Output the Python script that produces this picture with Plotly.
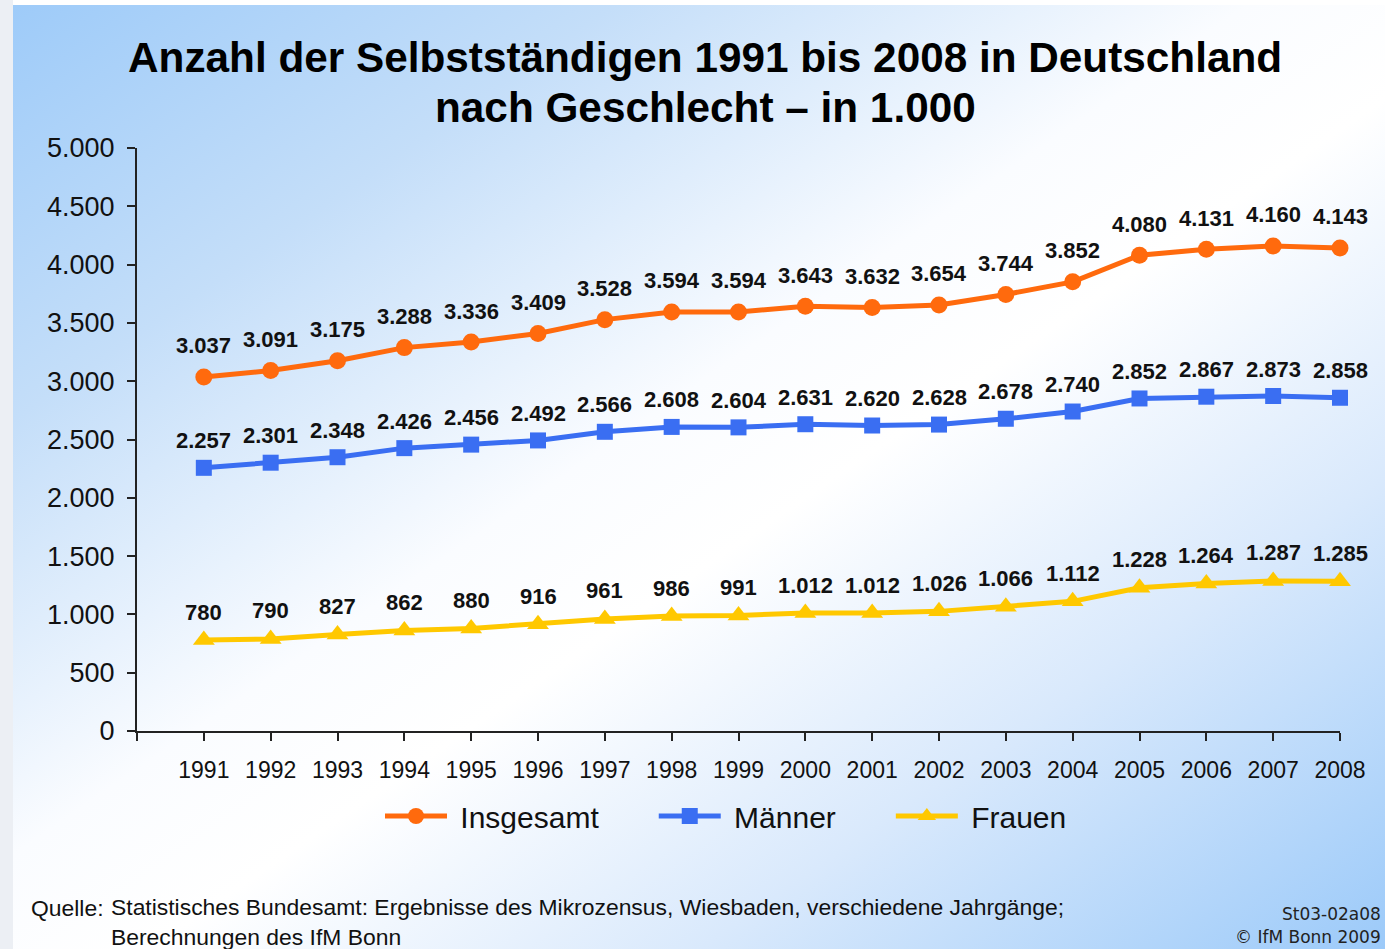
import urllib.parse
import plotly.graph_objects as go

years = [1991, 1992, 1993, 1994, 1995, 1996, 1997, 1998, 1999, 2000,
         2001, 2002, 2003, 2004, 2005, 2006, 2007, 2008]
insgesamt = [3037, 3091, 3175, 3288, 3336, 3409, 3528, 3594, 3594, 3643,
             3632, 3654, 3744, 3852, 4080, 4131, 4160, 4143]
maenner = [2257, 2301, 2348, 2426, 2456, 2492, 2566, 2608, 2604, 2631,
           2620, 2628, 2678, 2740, 2852, 2867, 2873, 2858]
frauen = [780, 790, 827, 862, 880, 916, 961, 986, 991, 1012,
          1012, 1026, 1066, 1112, 1228, 1264, 1287, 1285]

y_ticks = [0, 500, 1000, 1500, 2000, 2500, 3000, 3500, 4000, 4500, 5000]
x_axis_start = 1990
title_lines = ["Anzahl der Selbstständigen 1991 bis 2008 in Deutschland",
               "nach Geschlecht – in 1.000"]


def de(v):
    return f"{v:,}".replace(",", ".")


W, H = 1385, 949
L, R, T, B = 137, 45, 148, 218
PW, PH = W - L - R, H - T - B

FONT = "Liberation Sans, Arial, sans-serif"
NB = "\u00a0"

svg = f'''<svg xmlns="http://www.w3.org/2000/svg" width="{W}" height="{H}" viewBox="0 0 {W} {H}" preserveAspectRatio="none">
<defs><linearGradient id="g" x1="0" y1="0" x2="1" y2="1">
<stop offset="0" stop-color="#9ecbf9"/>
<stop offset="0.22" stop-color="#c4def9"/>
<stop offset="0.45" stop-color="#fafcff"/>
<stop offset="0.55" stop-color="#ffffff"/>
<stop offset="0.75" stop-color="#d9e9fc"/>
<stop offset="1" stop-color="#9ccaf9"/>
</linearGradient></defs>
<rect x="0" y="0" width="{W}" height="{H}" fill="#ffffff"/>
<rect x="0" y="0" width="13" height="{H}" fill="#eceff4"/>
<rect x="13" y="5" width="{W-13}" height="{H-5}" fill="url(#g)"/>
</svg>'''
bg_uri = "data:image/svg+xml;charset=utf-8," + urllib.parse.quote(svg)


def px_x(p):
    return (p - L) / PW


def px_y(p):
    return (H - B - p) / PH


fig = go.Figure()

series = [
    ("Insgesamt", insgesamt, "#ff6a0d", "circle", 17, 31, 6),
    ("Männer", maenner, "#3a6ef2", "square", 16, 27, 6),
    ("Frauen", frauen, "#ffc800", "triangle-up", 19, 28, 0),
]
for name, vals, color, sym, size, lift, pad in series:
    fig.add_trace(go.Scatter(
        x=years, y=vals, name=NB + name + NB * pad, mode="lines+markers",
        line=dict(color=color, width=5),
        marker=dict(symbol=sym, size=size, color=color),
        cliponaxis=False,
    ))
    for xv, yv in zip(years, vals):
        fig.add_annotation(x=xv, y=yv, text=de(yv), showarrow=False,
                           yshift=lift, xanchor="center", yanchor="middle",
                           font=dict(family=FONT, size=22, color="#111111",
                                     weight="bold"))

for i, line in enumerate(title_lines):
    fig.add_annotation(text=f"<b>{line}</b>", xref="paper", yref="paper",
                       x=px_x(705), y=px_y(58 + 50 * i), xanchor="center",
                       yanchor="middle", showarrow=False,
                       font=dict(family=FONT, size=42.3, color="#000000"))

fig.update_layout(
    width=W, height=H, autosize=False,
    margin=dict(l=L, r=R, t=T, b=B, autoexpand=False),
    paper_bgcolor="white",
    plot_bgcolor="rgba(0,0,0,0)",
    font=dict(family=FONT, color="#111111"),
    xaxis=dict(range=[x_axis_start, years[-1]],
               tickvals=[x_axis_start] + years,
               ticktext=[""] + [str(y) for y in years],
               ticks="outside", ticklen=8, tickwidth=1.5, tickcolor="#222",
               showline=True, linecolor="#222", linewidth=2,
               showgrid=False, zeroline=False, automargin=False,
               tickfont=dict(family=FONT, size=23, color="#111"),
               ticklabelstandoff=9),
    yaxis=dict(range=[0, 5000], tickvals=y_ticks,
               ticktext=[de(v) for v in y_ticks],
               ticks="outside", ticklen=8, tickwidth=1.5, tickcolor="#222",
               showline=True, linecolor="#222", linewidth=2,
               showgrid=False, zeroline=False, automargin=False,
               tickfont=dict(family=FONT, size=27, color="#111"),
               ticklabelstandoff=7),
    showlegend=True,
    legend=dict(orientation="h", x=px_x(380), xanchor="left",
                y=px_y(816), yanchor="middle",
                bgcolor="rgba(0,0,0,0)",
                font=dict(family=FONT, size=30, color="#111"),
                itemwidth=62),
    images=[dict(source=bg_uri, xref="paper", yref="paper",
                 x=-L / PW, y=1 + T / PH, sizex=W / PW, sizey=H / PH,
                 xanchor="left", yanchor="top", sizing="stretch",
                 layer="below")],
)

fig.add_annotation(text="Quelle:", xref="paper", yref="paper",
                   x=px_x(29), y=px_y(908), xanchor="left", yanchor="middle",
                   showarrow=False, font=dict(family=FONT, size=22.9, color="#111"))
fig.add_annotation(text="Statistisches Bundesamt: Ergebnisse des Mikrozensus, Wiesbaden, verschiedene Jahrgänge;<br>Berechnungen des IfM Bonn",
                   xref="paper", yref="paper", align="left",
                   x=px_x(109), y=px_y(922), xanchor="left", yanchor="middle",
                   showarrow=False, font=dict(family=FONT, size=22.9, color="#111"))
fig.add_annotation(text="St03-02a08", xref="paper", yref="paper",
                   x=px_x(1383), y=px_y(914), xanchor="right", yanchor="middle",
                   showarrow=False, font=dict(family="DejaVu Sans", size=17, color="#222"))
fig.add_annotation(text="© IfM Bonn 2009", xref="paper", yref="paper",
                   x=px_x(1383), y=px_y(937), xanchor="right", yanchor="middle",
                   showarrow=False, font=dict(family="DejaVu Sans", size=17, color="#222"))

fig.write_html("out.html", config={"displayModeBar": False},
               post_script="document.body.style.margin='0';")
